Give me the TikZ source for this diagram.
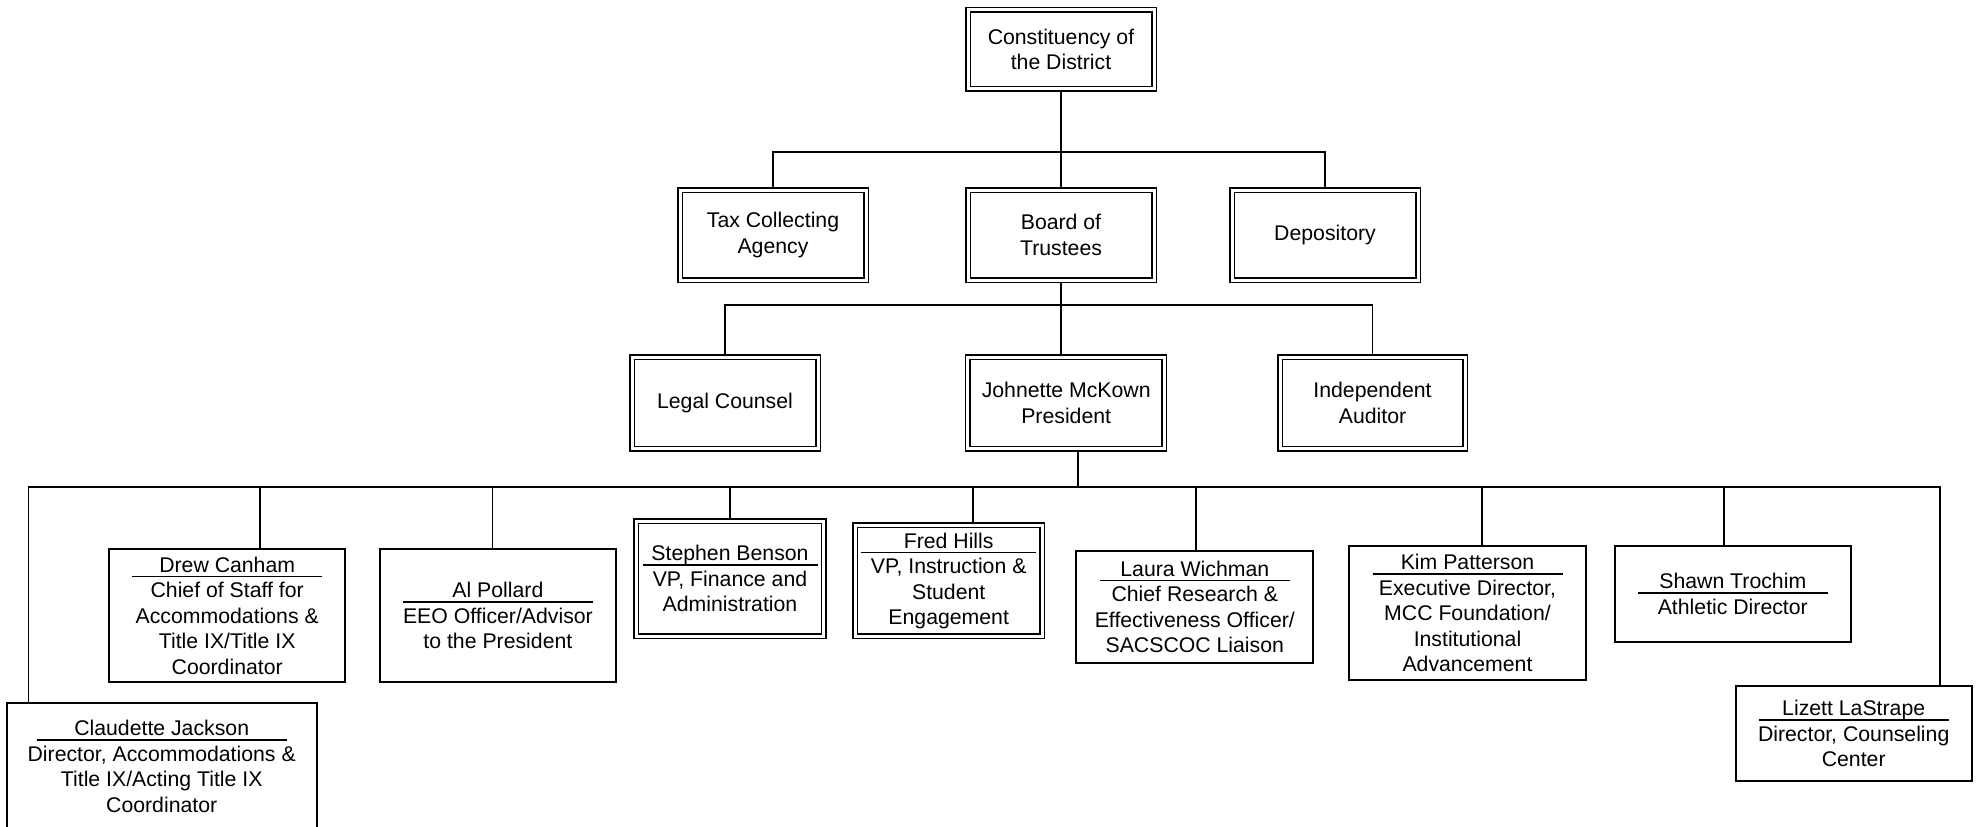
\documentclass[tikz,border=0pt]{standalone}
\usepackage{fontspec}
\setmainfont{Liberation Sans}
\newcommand\fs{\fontsize{8.5}{10.2}\selectfont}
\newcommand\nm[2]{\rlap{\rule[-2pt]{#1}{0.6pt}}\makebox[#1]{#2}}
\tikzset{
  box/.style={draw, line width=0.75pt, inner sep=0pt, align=center, font=\fs},
  dbox/.style={box, line width=0.6pt, double, double distance=1.2pt, outer sep=1.2pt},
  sz/.style 2 args={minimum width=#1*0.4pt, minimum height=#2*0.4pt},
  conn/.style={line width=0.75pt, line join=miter}
}
\begin{document}
\begin{tikzpicture}[x=0.4pt, y=-0.4pt]
\fill[white] (0,0) rectangle (1982,827);
\useasboundingbox (0,0) rectangle (1982,827);

% top levels
\node[dbox, sz={186}{78.7}] (con) at (1061,49.3) {Constituency of\\the District};
\node[dbox, sz={186}{90}] (tax) at (773,235) {Tax Collecting\\Agency};
\node[dbox, sz={186}{90}] (board) at (1061,235) {Board of\\Trustees};
\node[dbox, sz={186}{90}] (dep) at (1325,235) {Depository};
\node[dbox, sz={186}{91.4}] (legal) at (725,403) {Legal Counsel};
\node[dbox, sz={196.5}{91.4}] (pres) at (1066.2,403) {Johnette McKown\\President};
\node[dbox, sz={185}{91.4}] (aud) at (1372.5,403) {Independent\\Auditor};

% third level
\node[box, sz={310}{127.6}] (claud) at (161.7,766.5) {\nm{100pt}{Claudette Jackson}\\Director, Accommodations \&\\Title IX/Acting Title IX\\Coordinator};
\node[box, sz={236.4}{133.3}] (drew) at (227.2,615.7) {\nm{76pt}{Drew Canham}\\Chief of Staff for\\Accommodations \&\\Title IX/Title IX\\Coordinator};
\node[box, sz={235.7}{133.3}] (poll) at (497.9,615.7) {\nm{76pt}{Al Pollard}\\EEO Officer/Advisor\\to the President};
\node[dbox, sz={187.3}{115}] (benson) at (730,578.8) {\nm{70pt}{Stephen Benson}\\VP, Finance and\\Administration};
\node[dbox, sz={187.4}{111}] (hills) at (948.7,580.8) {\nm{70pt}{Fred Hills}\\VP, Instruction \&\\Student\\Engagement};
\node[box, sz={237}{112.6}] (laura) at (1194.8,607) {\nm{76pt}{Laura Wichman}\\Chief Research \&\\Effectiveness Officer/\\SACSCOC Liaison};
\node[box, sz={236.6}{134.3}] (kim) at (1467.5,612.9) {\nm{76pt}{Kim Patterson}\\Executive Director,\\MCC Foundation/\\Institutional\\Advancement};
\node[box, sz={236.5}{95.7}] (shawn) at (1732.8,593.9) {\nm{76pt}{Shawn Trochim}\\Athletic Director};
\node[box, sz={236}{94.7}] (lizett) at (1853.7,733.4) {\nm{76pt}{Lizett LaStrape}\\Director, Counseling\\Center};

% connectors level 1
\coordinate (t1) at (1061,151.7);
\draw[conn] (con.south) -- (board.north);
\draw[conn] (tax.north) -- (tax.north |- t1) -- (dep.north |- t1) -- (dep.north);

% connectors level 2
\coordinate (t2) at (1061,304.6);
\draw[conn] (board.south) -- (t2 |- pres.north);
\draw[conn] (legal.north) -- (legal.north |- t2) -- (aud.north |- t2) -- (aud.north);

% connectors level 3
\coordinate (pb) at (1078,487);
\coordinate (busL) at (28.5,487);
\coordinate (busR) at (1940,487);
\draw[conn] (pres.south -| pb) -- (pb);
\draw[conn] (busL |- claud.north) -- (busL) -- (busR) -- (busR |- lizett.north);
\coordinate (d1) at (260,487);
\coordinate (d2) at (492.5,487);
\coordinate (d3) at (730,487);
\coordinate (d4) at (972.7,487);
\coordinate (d5) at (1196,487);
\coordinate (d6) at (1482,487);
\coordinate (d7) at (1724,487);
\draw[conn] (d1) -- (d1 |- drew.north);
\draw[conn] (d2) -- (d2 |- poll.north);
\draw[conn] (d3) -- (d3 |- benson.north);
\draw[conn] (d4) -- (d4 |- hills.north);
\draw[conn] (d5) -- (d5 |- laura.north);
\draw[conn] (d6) -- (d6 |- kim.north);
\draw[conn] (d7) -- (d7 |- shawn.north);
\end{tikzpicture}
\end{document}
